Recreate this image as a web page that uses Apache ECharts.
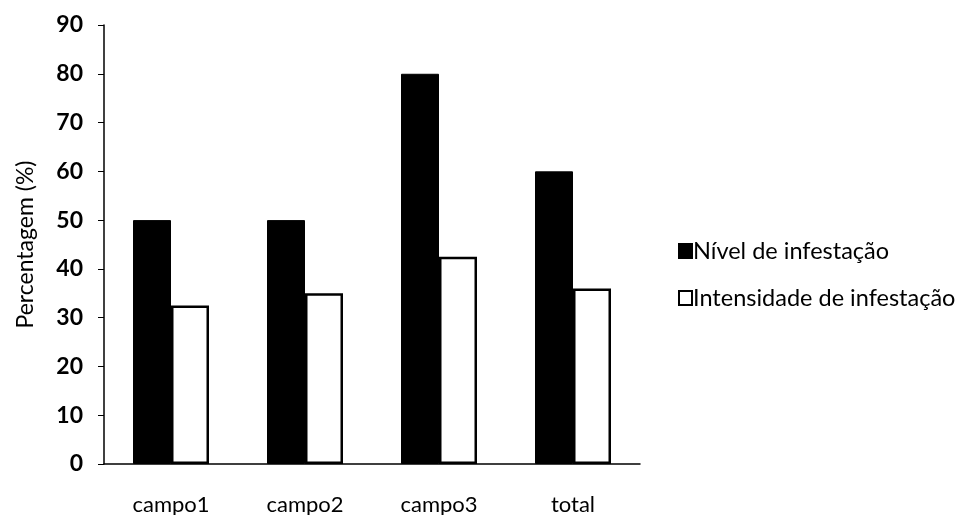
<!DOCTYPE html>
<html><head><meta charset="utf-8">
<script src="https://cdn.jsdelivr.net/npm/echarts@6/dist/echarts.min.js"></script>
<style>html,body{margin:0;padding:0;background:#fff}#c{width:962px;height:515px}</style>
</head><body><div id="c"></div>
<script>
const categories = ['campo1', 'campo2', 'campo3', 'total'];
const nivel = [50, 50, 80, 60];
const intensidade = [32.5, 35, 42.5, 36];
const yTicks = [0, 90, 10];
const seriesNames = ['Nível de infestação', 'Intensidade de infestação'];

const font = 'Lato, "Open Sans", sans-serif';
const chart = echarts.init(document.getElementById('c'));
chart.setOption({
  animation: false,
  grid: { left: 104, width: 536, top: 25, bottom: 51, outerBoundsMode: 'none', containLabel: false },
  legend: {
    orient: 'vertical', left: 678, top: 239, itemGap: 23, padding: 0,
    itemWidth: 13, itemHeight: 14, icon: 'rect',
    textStyle: { fontFamily: font, fontSize: 23.5, color: '#000', padding: [0,0,0,-4] },
    data: seriesNames
  },
  xAxis: {
    type: 'category', data: categories,
    axisLine: { lineStyle: { color: '#000', width: 1.5 } },
    axisTick: { show: false },
    axisLabel: { fontFamily: font, fontSize: 22, color: '#000', margin: 30 }
  },
  yAxis: {
    type: 'value', min: yTicks[0], max: yTicks[1], interval: yTicks[2],
    name: 'Percentagem (%)', nameLocation: 'middle', nameGap: 67, nameRotate: 90,
    nameTextStyle: { fontFamily: font, fontSize: 23, color: '#000' },
    splitLine: { show: false },
    axisLine: { show: true, lineStyle: { color: '#000', width: 1.5 } },
    axisTick: { show: true, inside: false, length: 6, lineStyle: { color: '#000' } },
    axisLabel: { fontFamily: font, fontSize: 23, fontWeight: 'bold', color: '#000', margin: 21 }
  },
  series: [
    { name: seriesNames[0], type: 'bar', data: nivel, barWidth: 38, barGap: '0%',
      itemStyle: { color: '#000', borderColor: '#000', borderWidth: 1 } },
    { name: seriesNames[1], type: 'bar', data: intensidade, barWidth: 38,
      itemStyle: { color: '#fff', borderColor: '#000', borderWidth: 2.5 } }
  ]
});
</script></body></html>
